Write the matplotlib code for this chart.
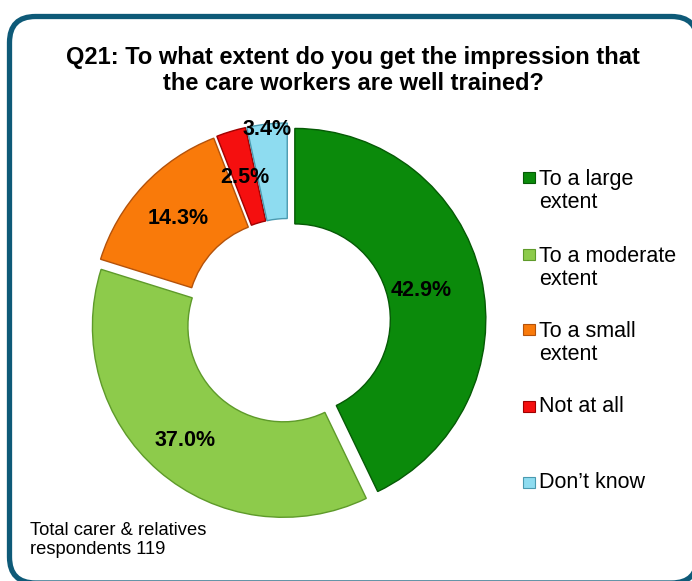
import numpy as np
import matplotlib.pyplot as plt
from matplotlib.patches import FancyBboxPatch, Rectangle

plt.rcParams['font.family'] = ['Liberation Sans', 'DejaVu Sans']

# Q21 answers (% of respondents)
categories = ['To a large\nextent', 'To a moderate\nextent', 'To a small\nextent',
              'Not at all', 'Don\u2019t know']
shares = [42.9, 37.0, 14.3, 2.5, 3.4]
share_labels = ['42.9%', '37.0%', '14.3%', '2.5%', '3.4%']

colors = ['#0B8A0B', '#8DCB4B', '#F97A0A', '#F50F0F', '#8EDCF0']
edges = ['#055A05', '#5E9A2A', '#B4520A', '#A00000', '#4A9AB0']

W, H = 692, 581
fig = plt.figure(figsize=(W / 100, H / 100), dpi=100)
ax = fig.add_axes([0, 0, 1, 1])

# rounded frame
frame = FancyBboxPatch((9.5, -2), 688, H - 16.5 + 2,
                       boxstyle='round,pad=0,rounding_size=26',
                       fc='white', ec='#0E5A78', lw=3.8, zorder=0)
ax.add_patch(frame)

# donut, every slice pulled out a little
R = 191
cx, cy = 288, H - 321
wedges, _ = ax.pie(shares, colors=colors, startangle=90, counterclock=False,
                   radius=R, center=(cx, cy), explode=[7] * len(shares),
                   wedgeprops=dict(width=R * 0.5, linewidth=1.0))
for w, ec in zip(wedges, edges):
    w.set_edgecolor(ec)
    w.set_zorder(2)

# value labels, placed along each wedge's mid angle
label_r = [0.68, 0.79, 0.75, 0.75, 0.97]
for w, txt, f in zip(wedges, share_labels, label_r):
    mid = np.deg2rad((w.theta1 + w.theta2) / 2)
    x0, y0 = w.center
    ax.text(x0 + f * R * np.cos(mid), y0 + f * R * np.sin(mid), txt,
            ha='center', va='center', fontsize=15.5, fontweight='bold', zorder=3)

ax.set_xlim(0, W)
ax.set_ylim(0, H)
ax.set_aspect('equal')
ax.axis('off')

# title (va='baseline' pins the last line)
ax.text(353, H - 90, 'Q21: To what extent do you get the impression that\nthe care workers are well trained?',
        ha='center', va='baseline', fontsize=17, fontweight='bold', linespacing=1.17)

# legend: square sits on the first line's baseline
leg_base = [183, 260, 335, 412, 488]
line_gap = 25
for lab, col, ec, y in zip(categories, colors, edges, leg_base):
    n = lab.count('\n')
    ax.add_patch(Rectangle((523, H - y), 12, 11, fc=col, ec=ec, lw=0.8))
    ax.text(539, H - y - n * line_gap, lab, ha='left', va='baseline',
            fontsize=15.5, linespacing=1.13)

# footnote
ax.text(30, H - 554, 'Total carer & relatives\nrespondents 119',
        ha='left', va='baseline', fontsize=13.2, linespacing=1.18)

fig.savefig('out.png', dpi=100)
